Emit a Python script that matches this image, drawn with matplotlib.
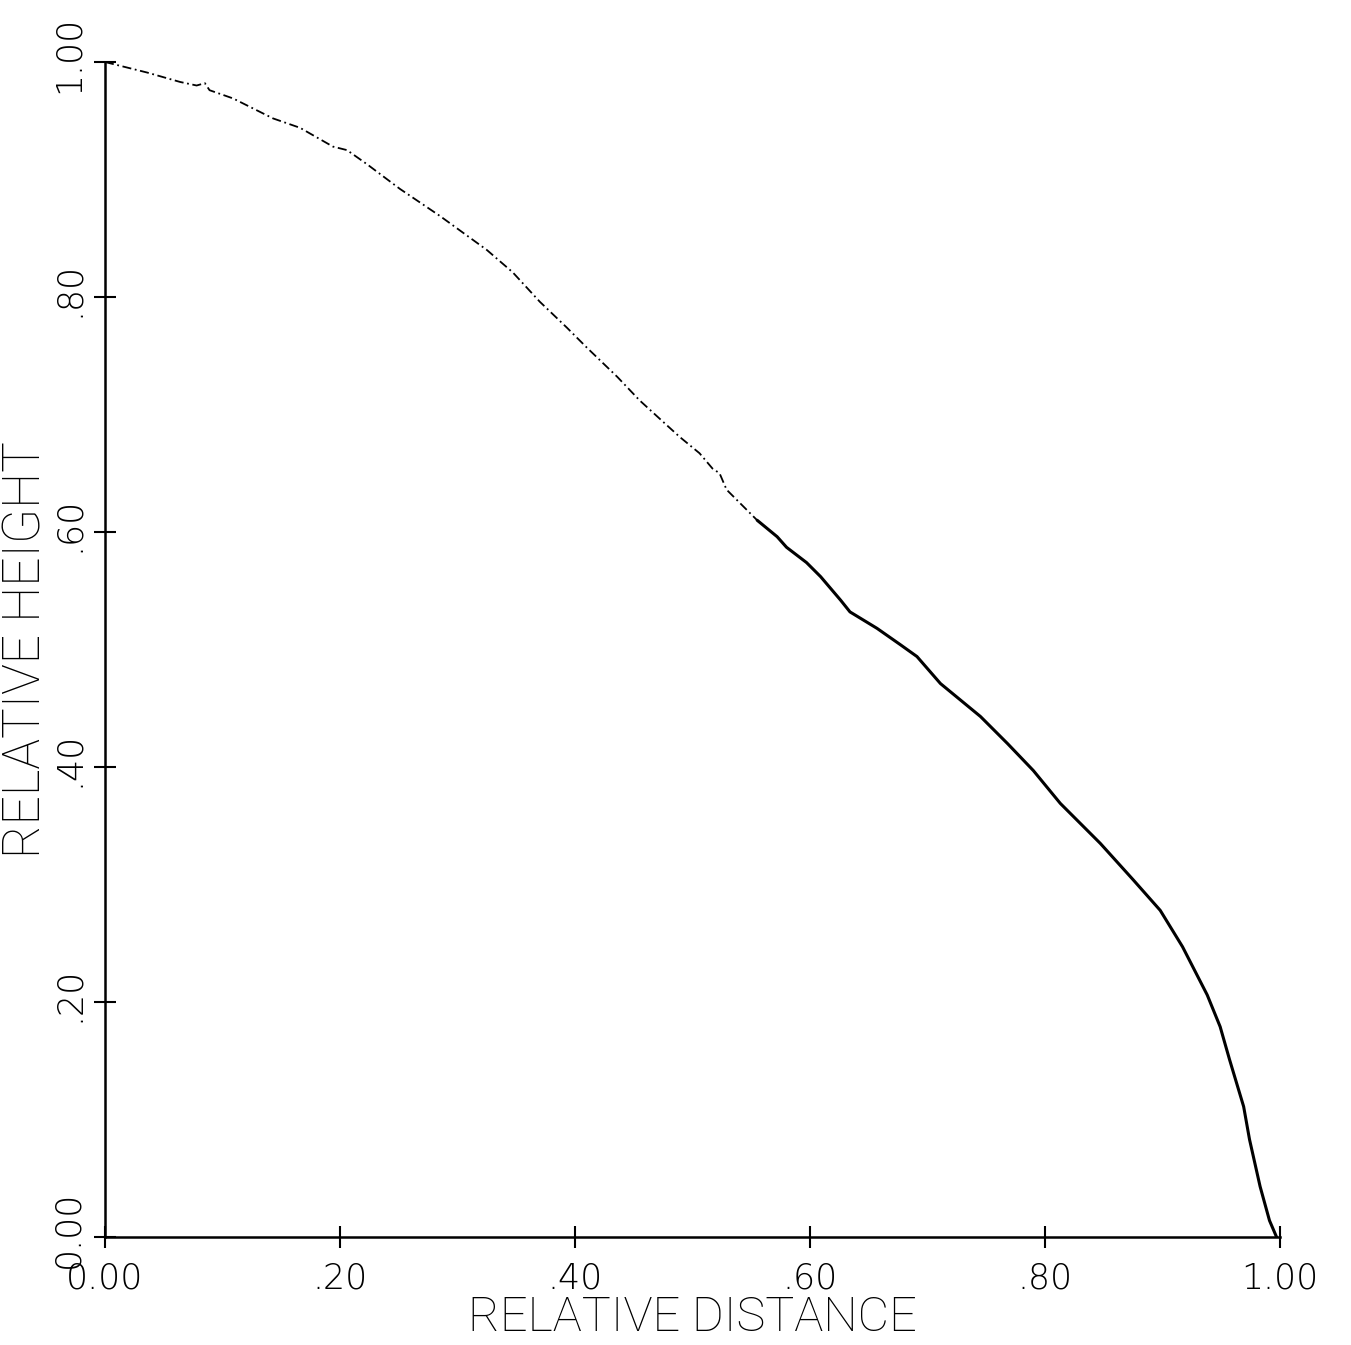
import matplotlib.pyplot as plt
import matplotlib.transforms as mtransforms
import numpy as np

# profile (relative distance, relative height)
rel_dist = [0.000, 0.036, 0.064, 0.078, 0.085, 0.089, 0.109, 0.143, 0.166, 0.194,
            0.206, 0.223, 0.251, 0.285, 0.325, 0.347, 0.370, 0.393, 0.410, 0.436,
            0.455, 0.478, 0.489, 0.506, 0.517, 0.523, 0.529, 0.555, 0.572, 0.580,
            0.597, 0.609, 0.626, 0.634, 0.657, 0.677, 0.691, 0.711, 0.745, 0.768,
            0.790, 0.813, 0.847, 0.875, 0.898, 0.917, 0.938, 0.949, 0.957, 0.969,
            0.974, 0.983, 0.991, 0.997]
rel_height = [1.000, 0.991, 0.983, 0.980, 0.982, 0.976, 0.969, 0.952, 0.944, 0.928,
              0.925, 0.913, 0.892, 0.869, 0.840, 0.821, 0.796, 0.774, 0.757, 0.732,
              0.712, 0.691, 0.681, 0.667, 0.654, 0.650, 0.636, 0.610, 0.596, 0.587,
              0.574, 0.562, 0.542, 0.532, 0.518, 0.504, 0.494, 0.471, 0.443, 0.420,
              0.397, 0.369, 0.335, 0.304, 0.278, 0.247, 0.206, 0.179, 0.151, 0.111,
              0.083, 0.043, 0.014, 0.000]

ticks = [0.0, 0.2, 0.4, 0.6, 0.8, 1.0]
tick_labels = ['0.00', '.20', '.40', '.60', '.80', '1.00']

label_font = ['Roboto', 'DejaVu Sans']
tick_font = ['DejaVu Sans']

fig = plt.figure(figsize=(13.51, 13.45), dpi=100)
ax = fig.add_axes([0.0777, 0.0803, 0.8698, 0.8736])

x = np.array(rel_dist)
y = np.array(rel_height)
split = 27  # upper part of the trace is faint and broken, lower part solid
ax.plot(x[:split + 1], y[:split + 1], color='black', lw=1.3,
        linestyle=(0, (5, 2, 1, 2)))
ax.plot(x[split:], y[split:], color='black', lw=2.2, solid_capstyle='round')

ax.set_xlim(0, 1)
ax.set_ylim(0, 1)
ax.margins(0)
for side in ['top', 'right']:
    ax.spines[side].set_visible(False)
for side in ['left', 'bottom']:
    ax.spines[side].set_linewidth(1.8)

ax.set_xticks(ticks)
ax.set_xticklabels(tick_labels, fontsize=25, family=tick_font, fontweight='light')
ax.set_yticks(ticks)
ax.set_yticklabels(tick_labels, fontsize=25, family=tick_font, fontweight='light',
                   rotation=90, va='center')
ax.tick_params(direction='inout', length=16, width=1.5, pad=6)
ax.tick_params(axis='x', pad=10)

# y tick labels sit a little above their ticks in the original
shift = mtransforms.ScaledTranslation(0, 8 / 100, fig.dpi_scale_trans)
for lab in ax.get_yticklabels():
    lab.set_transform(lab.get_transform() + shift)

ax.set_xlabel('RELATIVE DISTANCE', fontsize=35, family=label_font,
              fontweight='light', labelpad=-1)
ax.set_ylabel('RELATIVE HEIGHT', fontsize=37, family=label_font,
              fontweight='light', labelpad=0)

fig.savefig('out.png', dpi=100, facecolor='white')
